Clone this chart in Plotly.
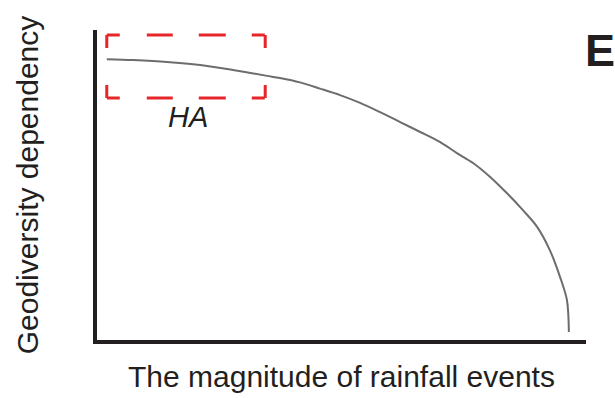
import plotly.graph_objects as go

# curve (x = rainfall magnitude, y = geodiversity dependency, 0-100)
magnitude = [2.0, 7.4, 14.3, 21.1, 27.8, 34.8, 37.4, 41.5, 45.6, 49.7, 53.8, 57.9,
             62.0, 66.1, 70.1, 73.6, 76.9, 80.4, 83.8, 87.1, 90.0, 92.6, 94.7,
             96.1, 96.5]
dependency = [90.6, 90.3, 89.7, 88.7, 87.1, 85.2, 84.5, 83.1, 81.1, 79.0, 76.5, 73.5,
              70.3, 67.1, 63.9, 60.3, 57.1, 52.6, 47.4, 41.9, 36.5, 29.0, 20.3,
              12.9, 2.6]

# dashed box around the high-dependency zone
box_x = [2.0, 34.4]
box_y = [78.1, 98.4]
box_label = "HA"
panel_label = "E"

font_family = "Liberation Sans, Arial, sans-serif"
ink = "#231f20"
red = "#e5262a"

fig = go.Figure()
fig.add_trace(go.Scatter(
    x=magnitude, y=dependency, mode="lines",
    line=dict(color="#6d6d6d", width=2, shape="spline", smoothing=0.9),
    hoverinfo="skip", showlegend=False,
))

# box drawn side by side so the corner dashes line up like the original
horiz_dash = "13px,27px,26px,26px,27px,26px,13px,200px"
vert_dash = "13px,37px,13px,200px"
for y in box_y:
    fig.add_shape(type="line", x0=box_x[0], x1=box_x[1], y0=y, y1=y,
                  line=dict(color=red, width=3, dash=horiz_dash))
for x in box_x:
    fig.add_shape(type="line", x0=x, x1=x, y0=box_y[1], y1=box_y[0],
                  line=dict(color=red, width=3, dash=vert_dash))

fig.add_annotation(x=18.6, y=71.9, text=f"<i>{box_label}</i>", showarrow=False,
                   xanchor="center", yanchor="middle",
                   font=dict(family=font_family, size=29, color=ink))
fig.add_annotation(x=1.029, y=0.935, xref="paper", yref="paper",
                   xanchor="center", yanchor="middle",
                   text=f"<b>{panel_label}</b>", showarrow=False,
                   font=dict(family=font_family, size=45, color=ink))

fig.update_layout(
    width=615, height=398,
    margin=dict(l=97, r=29, t=30, b=58),
    paper_bgcolor="white", plot_bgcolor="white",
    font=dict(family=font_family, color=ink),
    xaxis=dict(range=[0, 100], showgrid=False, zeroline=False, showticklabels=False,
               ticks="", showline=True, linecolor=ink, linewidth=4,
               title=dict(text="The magnitude of rainfall events", standoff=24,
                          font=dict(size=30, color=ink))),
    yaxis=dict(range=[0, 100], showgrid=False, zeroline=False, showticklabels=False,
               ticks="", showline=True, linecolor=ink, linewidth=4,
               title=dict(text="Geodiversity dependency", standoff=47,
                          font=dict(size=30, color=ink))),
)

# drop the default body margin so the figure fills the window without scrollbars
fig.write_html("out.html", config={"displayModeBar": False},
               post_script="document.body.style.margin='0';")
